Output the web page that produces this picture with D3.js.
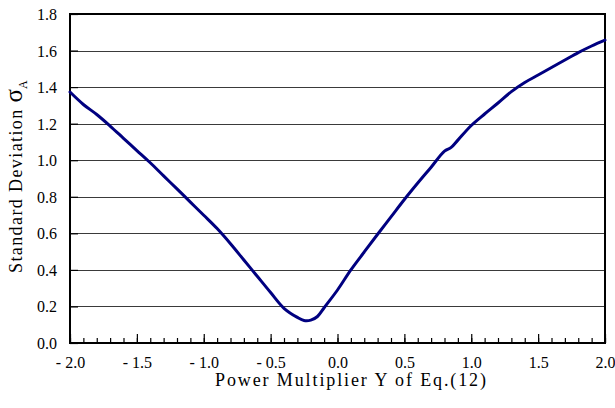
<!DOCTYPE html>
<html>
<head>
<meta charset="utf-8">
<script src="https://cdn.jsdelivr.net/npm/d3@7"></script>
<style>
  html, body { margin: 0; padding: 0; background: #fff; }
  svg { display: block; }
  text { font-family: "Liberation Serif", "Times New Roman", serif; fill: #000; }
</style>
</head>
<body>
<svg id="chart" width="615" height="408"></svg>
<script>
// Power multiplier Y and the resulting standard deviation sigma_A
const powerY = [-2.0, -1.9, -1.8, -1.7, -1.6, -1.5, -1.4, -1.3, -1.2, -1.1,
                -1.0, -0.9, -0.8, -0.7, -0.6, -0.5, -0.4, -0.3, -0.25, -0.2,
                -0.15, -0.1, 0.0, 0.1, 0.2, 0.3, 0.4, 0.5, 0.6, 0.7,
                0.8, 0.85, 0.9, 1.0, 1.1, 1.2, 1.3, 1.4, 1.5, 1.6,
                1.7, 1.8, 1.9, 2.0];
const sigmaA = [1.373, 1.305, 1.25, 1.187, 1.12, 1.053, 0.986, 0.914, 0.843, 0.771,
                0.699, 0.626, 0.543, 0.454, 0.365, 0.276, 0.19, 0.14, 0.123, 0.125,
                0.145, 0.193, 0.29, 0.40, 0.498, 0.595, 0.69, 0.785, 0.875, 0.962,
                1.05, 1.07, 1.11, 1.19, 1.253, 1.313, 1.375, 1.425, 1.466, 1.507,
                1.548, 1.589, 1.625, 1.657];

const xTicks = [-2.0, -1.5, -1.0, -0.5, 0.0, 0.5, 1.0, 1.5, 2.0];
const yTicks = [0.0, 0.2, 0.4, 0.6, 0.8, 1.0, 1.2, 1.4, 1.6, 1.8];
const xTitle = "Power Multiplier Y of Eq.(12)";
const yTitle = "Standard Deviation ";

const W = 615, H = 408;
const margin = { left: 70, top: 14, right: 10, bottom: 65 };
const svg = d3.select("#chart");

const x = d3.scaleLinear().domain([-2, 2]).range([margin.left, W - margin.right]);
const y = d3.scaleLinear().domain([0, 1.8]).range([H - margin.bottom, margin.top]);

const fmt = v => {
  const s = d3.format(".1f")(Math.abs(v));
  return v < 0 ? "- " + s : s;
};

// horizontal grid lines
svg.append("g")
  .selectAll("line")
  .data(yTicks.filter(v => v > 0 && v < 1.8))
  .join("line")
  .attr("x1", x(-2)).attr("x2", x(2))
  .attr("y1", d => Math.round(y(d)) + 0.5).attr("y2", d => Math.round(y(d)) + 0.5)
  .attr("stroke", "#3a3a3a").attr("stroke-width", 1);

// y axis: inward ticks with labels
const yAxis = d3.axisLeft(y).tickValues(yTicks).tickFormat(fmt).tickSizeInner(-8).tickSizeOuter(0).tickPadding(13);
const gy = svg.append("g").attr("transform", `translate(${margin.left},0)`).call(yAxis);
gy.attr("font-family", null);
gy.select(".domain").remove();
gy.selectAll(".tick line").attr("stroke", "#000").attr("stroke-width", 1.2);
gy.selectAll(".tick text").attr("font-size", 16).attr("dy", "0.34em");

// x axis: major ticks every 0.5, minor every 0.1, all pointing inward
const minorTicks = d3.range(-20, 21).map(i => i / 10);
const gxMinor = svg.append("g").attr("transform", `translate(0,${H - margin.bottom})`)
  .call(d3.axisBottom(x).tickValues(minorTicks).tickFormat("").tickSizeInner(-5).tickSizeOuter(0));
gxMinor.select(".domain").remove();
gxMinor.selectAll(".tick line").attr("stroke", "#000").attr("stroke-width", 1.2);

const xAxis = d3.axisBottom(x).tickValues(xTicks).tickFormat(fmt).tickSizeInner(-9).tickSizeOuter(0).tickPadding(14);
const gx = svg.append("g").attr("transform", `translate(0,${H - margin.bottom})`).call(xAxis);
gx.attr("font-family", null);
gx.select(".domain").remove();
gx.selectAll(".tick line").attr("stroke", "#000").attr("stroke-width", 1.2);
gx.selectAll(".tick text").attr("font-size", 16);

// plot frame
svg.append("rect")
  .attr("x", x(-2)).attr("y", y(1.8))
  .attr("width", x(2) - x(-2)).attr("height", y(0) - y(1.8))
  .attr("fill", "none").attr("stroke", "#000").attr("stroke-width", 2);

// data curve
const line = d3.line()
  .x((d, i) => x(powerY[i]))
  .y(d => y(d))
  .curve(d3.curveCatmullRom.alpha(0.5));
svg.append("path")
  .datum(sigmaA)
  .attr("d", line)
  .attr("fill", "none")
  .attr("stroke", "#000080")
  .attr("stroke-width", 3)
  .attr("stroke-linejoin", "round")
  .attr("stroke-linecap", "round");

// axis titles
svg.append("text")
  .attr("x", 215).attr("y", 386)
  .attr("font-size", 18)
  .attr("textLength", 271).attr("lengthAdjust", "spacing")
  .text(xTitle);

const yt = svg.append("text")
  .attr("transform", "translate(22,273) rotate(-90)")
  .attr("font-size", 18);
yt.append("tspan").attr("letter-spacing", "1.4px").text(yTitle);
yt.append("tspan").attr("font-size", 25).text("σ");
yt.append("tspan").attr("font-size", 12).attr("dy", 5).text("A");
</script>
</body>
</html>
